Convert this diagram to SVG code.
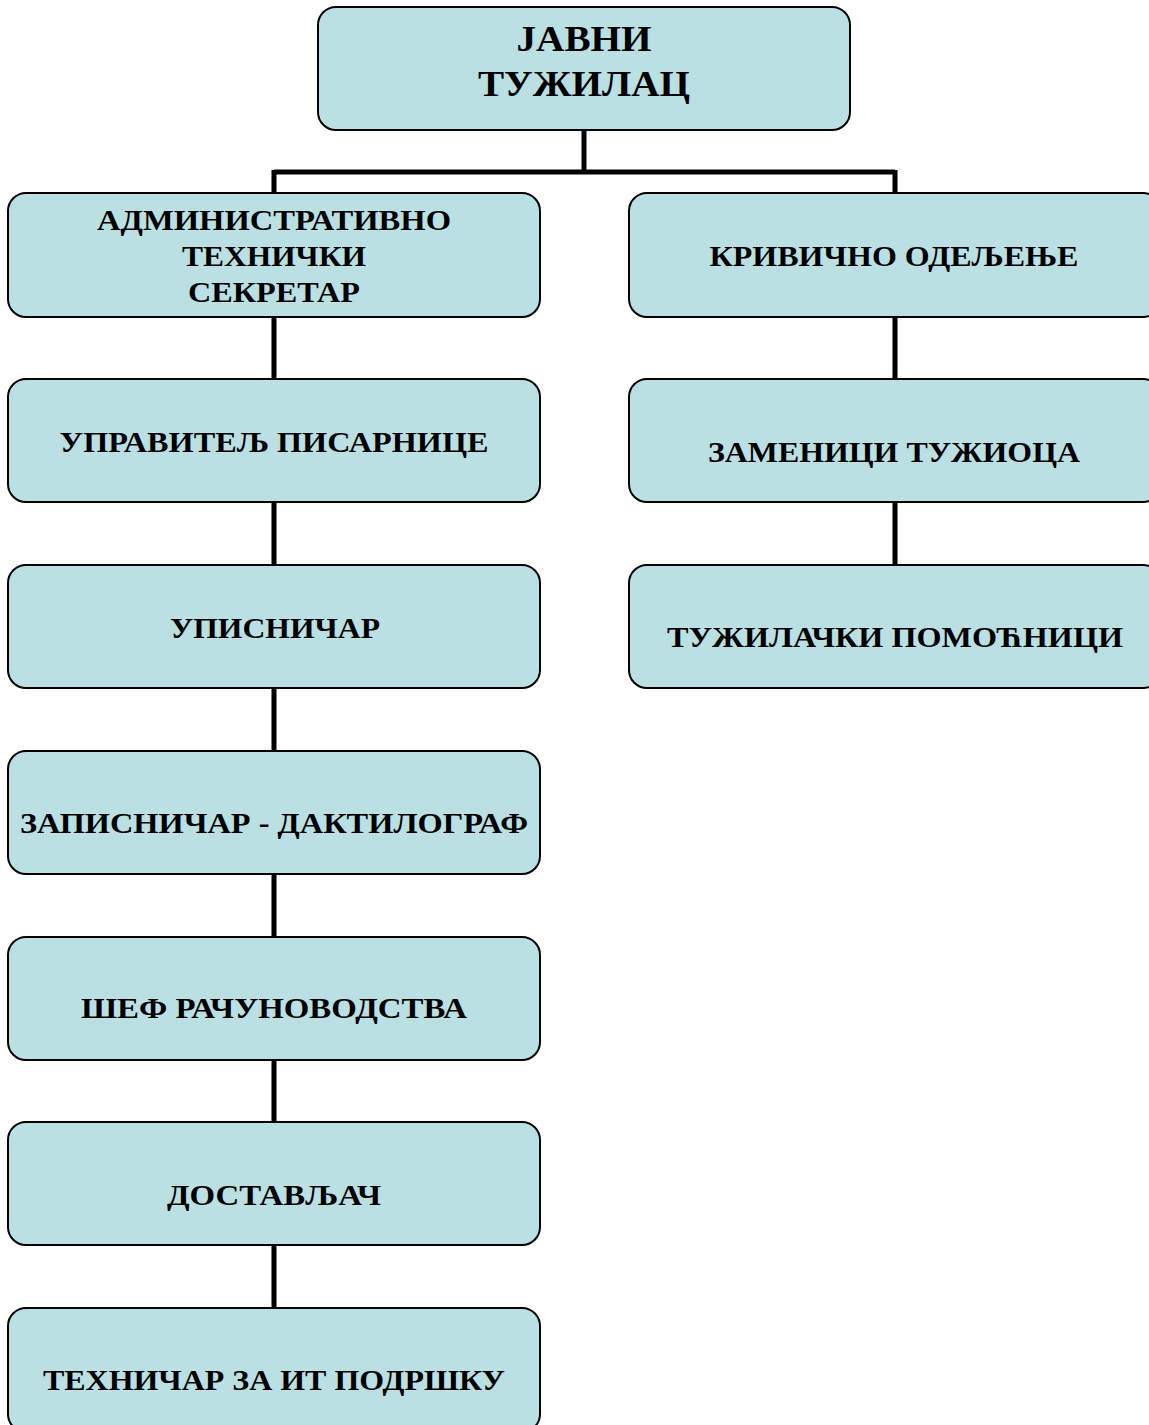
<svg xmlns="http://www.w3.org/2000/svg" width="1149" height="1425" viewBox="0 0 1149 1425">
<style>
.box{fill:#BBE0E3;stroke:#000;stroke-width:2}
.t{font-family:"Liberation Serif","Times New Roman",serif;font-weight:bold;font-size:29px;fill:#000;text-anchor:middle}
.tt{font-size:36px}
.c{stroke:#000;stroke-width:5;fill:none}
</style>
<rect width="1149" height="1425" fill="#fff"/>
<g id="connectors">
<path class="c" d="M584 130V172M274 172H895M274 170V193M895 170V193"/>
<path class="c" d="M274 317V379M274 502V565M274 688V751M274 874V937M274 1060V1122M274 1245V1308"/>
<path class="c" d="M895 317V379M895 502V565"/>
</g>
<g id="javni-tuzilac"><rect class="box" x="318" y="7" width="532" height="123" rx="18"/><text class="t tt" x="584" y="51" textLength="135" lengthAdjust="spacingAndGlyphs">ЈАВНИ</text><text class="t tt" x="584" y="96" textLength="212" lengthAdjust="spacingAndGlyphs">ТУЖИЛАЦ</text></g>
<g id="adm-sekretar"><rect class="box" x="8" y="193" width="532" height="124" rx="18"/><text class="t" x="274" y="230" textLength="354" lengthAdjust="spacingAndGlyphs">АДМИНИСТРАТИВНО</text><text class="t" x="274" y="266" textLength="184" lengthAdjust="spacingAndGlyphs">ТЕХНИЧКИ</text><text class="t" x="274" y="302" textLength="172" lengthAdjust="spacingAndGlyphs">СЕКРЕТАР</text></g>
<g id="upravitelj"><rect class="box" x="8" y="379" width="532" height="123" rx="18"/><text class="t" x="274" y="452" textLength="429" lengthAdjust="spacingAndGlyphs">УПРАВИТЕЉ ПИСАРНИЦЕ</text></g>
<g id="upisnicar"><rect class="box" x="8" y="565" width="532" height="123" rx="18"/><text class="t" x="275" y="638" textLength="210" lengthAdjust="spacingAndGlyphs">УПИСНИЧАР</text></g>
<g id="zapisnicar"><rect class="box" x="8" y="751" width="532" height="123" rx="18"/><text class="t" x="274" y="833" textLength="508" lengthAdjust="spacingAndGlyphs">ЗАПИСНИЧАР - ДАКТИЛОГРАФ</text></g>
<g id="sef"><rect class="box" x="8" y="937" width="532" height="123" rx="18"/><text class="t" x="274" y="1018" textLength="386" lengthAdjust="spacingAndGlyphs">ШЕФ РАЧУНОВОДСТВА</text></g>
<g id="dostavljac"><rect class="box" x="8" y="1122" width="532" height="123" rx="18"/><text class="t" x="274" y="1205" textLength="214" lengthAdjust="spacingAndGlyphs">ДОСТАВЉАЧ</text></g>
<g id="tehnicar"><rect class="box" x="8" y="1308" width="532" height="124" rx="18"/><text class="t" x="274" y="1390" textLength="462" lengthAdjust="spacingAndGlyphs">ТЕХНИЧАР ЗА ИТ ПОДРШКУ</text></g>
<g id="krivicno"><rect class="box" x="629" y="193" width="532" height="124" rx="18"/><text class="t" x="894" y="266" textLength="369" lengthAdjust="spacingAndGlyphs">КРИВИЧНО ОДЕЉЕЊЕ</text></g>
<g id="zamenici"><rect class="box" x="629" y="379" width="532" height="123" rx="18"/><text class="t" x="894" y="462" textLength="372" lengthAdjust="spacingAndGlyphs">ЗАМЕНИЦИ ТУЖИОЦА</text></g>
<g id="pomocnici"><rect class="box" x="629" y="565" width="532" height="123" rx="18"/><text class="t" x="895" y="647" textLength="456" lengthAdjust="spacingAndGlyphs">ТУЖИЛАЧКИ ПОМОЋНИЦИ</text></g>
</svg>
